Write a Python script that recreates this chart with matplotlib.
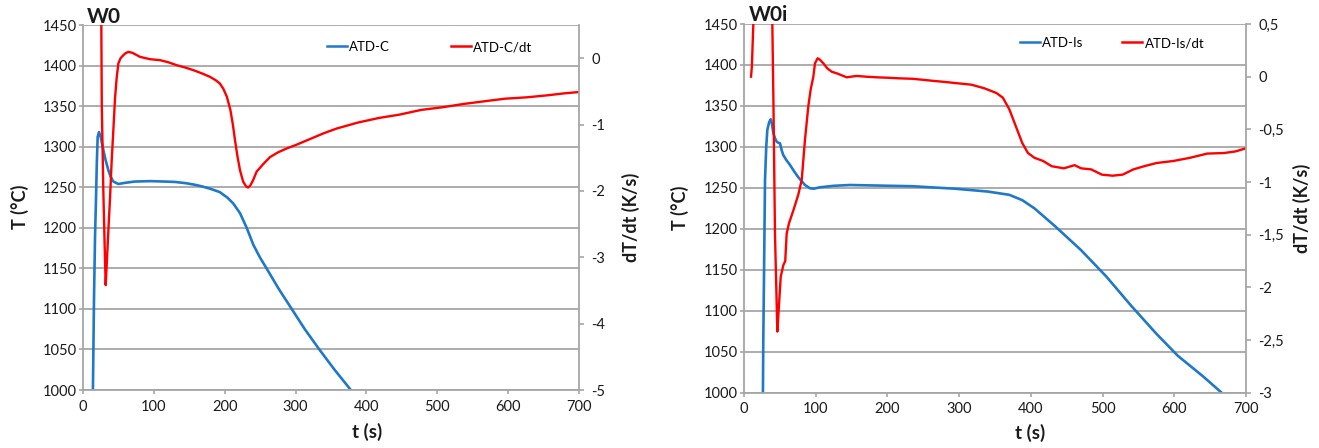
import matplotlib
matplotlib.use("Agg")
import matplotlib.pyplot as plt
from matplotlib.ticker import FuncFormatter, MultipleLocator
from matplotlib.lines import Line2D

plt.rcParams['font.family'] = ['Lato', 'DejaVu Sans']

# --- W0: ATD-C cooling curve and its derivative ---
t_c = [14, 15.5, 17, 18.3, 19.5, 20.7, 22.6, 25, 28.7, 32, 35.8, 39, 42.8, 49.9, 60, 73, 95,
       115, 130, 145, 158, 168, 180, 193, 204, 212, 221.6, 231, 240.4, 250, 259, 276, 294.5,
       313, 333.5, 355, 378]
T_c = [1000, 1111, 1190, 1234, 1280, 1312, 1318, 1312, 1296, 1283, 1271, 1263, 1257, 1254,
       1255.5, 1257, 1257.5, 1257, 1256.5, 1255, 1253, 1251, 1248, 1244, 1237, 1230, 1218,
       1200, 1179, 1163, 1150, 1125, 1100, 1075, 1050, 1025, 1000]

t_cd = [22, 25.8, 26.5, 28.7, 30.5, 32, 34, 36, 38, 40.5, 43, 45.2, 47.5, 49.9, 53, 56.9, 60,
        64, 70, 80.4, 94.6, 108.7, 120, 132, 144, 155.7, 168, 179, 187, 193, 198, 203, 208,
        211.5, 214.5, 218, 221.6, 226, 230, 233, 236, 240, 245, 254, 264, 275, 287.5, 300,
        320, 340, 358, 388, 418, 447, 477, 507, 537, 566, 596, 626, 655, 679, 700]
dT_cd = [3.0, 0.6, -0.7, -2.0, -2.8, -3.42, -3.0, -2.55, -2.14, -1.54, -1.05, -0.6, -0.3,
         -0.08, 0.0, 0.045, 0.075, 0.095, 0.08, 0.02, -0.015, -0.03, -0.06, -0.105, -0.14,
         -0.18, -0.23, -0.28, -0.33, -0.38, -0.46, -0.58, -0.78, -1.0, -1.235, -1.48, -1.69,
         -1.86, -1.93, -1.95, -1.92, -1.84, -1.71, -1.6, -1.49, -1.42, -1.36, -1.31, -1.22,
         -1.13, -1.06, -0.97, -0.9, -0.85, -0.78, -0.74, -0.69, -0.65, -0.61, -0.59, -0.56,
         -0.53, -0.51]

# --- W0i: ATD-Is cooling curve and its derivative ---
t_i = [26.4, 26.9, 28.1, 29.3, 31, 32.5, 35, 37.2, 39, 41, 43.5, 45.6, 48, 50.2, 52.5, 54.8,
       59, 64.1, 70, 75.7, 85, 92, 97, 106, 125, 147.8, 176, 235, 294, 340, 370, 388, 405,
       434, 470, 505, 540, 575, 605, 640, 666]
T_i = [1000, 1064, 1160, 1259.6, 1300, 1320.6, 1330, 1333.7, 1328, 1316.6, 1310, 1306.4,
       1305, 1304.4, 1296, 1290, 1284, 1278, 1270, 1263, 1253.5, 1249.5, 1249, 1250.7,
       1252.5, 1253.5, 1253, 1252, 1249, 1245.5, 1241.5, 1235, 1225, 1203, 1174, 1142, 1106,
       1072, 1045, 1020, 1000]

t_id = [9.8, 11, 13, 16, 36, 39.5, 41, 43.2, 46.5, 48.5, 51.2, 54.8, 57.5, 59.5, 62.8, 68.8,
        75.7, 80.5, 85, 89.7, 93, 96.7, 99, 102.7, 106, 110.6, 116, 122.3, 130, 143.2, 157,
        170, 185, 200, 217, 235, 250, 264, 280, 294, 317, 335, 352, 361, 370, 379, 388, 396,
        405, 417, 429, 446, 461, 470, 484, 499, 514, 528, 543, 558, 575, 599, 622, 646, 669,
        685, 700]
dT_id = [0.0, 0.1, 0.5, 3.0, 3.0, 0.5, -0.22, -1.49, -2.42, -2.2, -1.90, -1.79, -1.75,
         -1.49, -1.39, -1.27, -1.12, -0.98, -0.60, -0.28, -0.12, 0.0, 0.127, 0.175, 0.16,
         0.127, 0.08, 0.047, 0.03, -0.006, 0.007, 0.0, -0.006, -0.01, -0.016, -0.02, -0.03,
         -0.04, -0.05, -0.06, -0.076, -0.11, -0.155, -0.2, -0.31, -0.47, -0.63, -0.725, -0.77,
         -0.8, -0.85, -0.87, -0.84, -0.87, -0.88, -0.93, -0.94, -0.93, -0.88, -0.85, -0.82,
         -0.8, -0.77, -0.73, -0.725, -0.71, -0.68]

BLUE = '#1f78c8'
RED = '#ff0000'
GRID = '#a6a6a6'
TXT = '#1a1a1a'

W, H = 1319, 448
fig = plt.figure(figsize=(W / 100, H / 100), dpi=100)


def px_axes(x0, y0, x1, y1):
    return fig.add_axes([x0 / W, 1 - y1 / H, (x1 - x0) / W, (y1 - y0) / H])


def style_axes(ax, ax2, dlim, dstep, dfmt):
    ax.set_xlim(0, 700)
    ax.set_ylim(1000, 1450)
    ax.xaxis.set_major_locator(MultipleLocator(100))
    ax.yaxis.set_major_locator(MultipleLocator(50))
    ax.grid(axis='y', color=GRID, linewidth=1.3)
    ax.set_axisbelow(True)
    for a in (ax, ax2):
        for s in a.spines.values():
            s.set_color(GRID)
            s.set_linewidth(1.3)
        a.spines['top'].set_visible(False)
        a.tick_params(colors=GRID, labelcolor=TXT, labelsize=10.5, length=3, width=1.2)
    ax.spines['right'].set_visible(False)
    ax2.spines['left'].set_visible(False)
    ax2.spines['bottom'].set_visible(False)
    ax2.set_ylim(*dlim)
    ax2.yaxis.set_major_locator(MultipleLocator(dstep))
    ax2.yaxis.set_major_formatter(FuncFormatter(dfmt))
    ax.tick_params(axis='y', pad=1.5)
    ax2.tick_params(axis='y', length=3.8, pad=5)
    ax.tick_params(axis='x', pad=4)


def fmt_int(v, pos):
    return f"{v:g}"


def fmt_comma(v, pos):
    return f"{v:g}".replace('.', ',')


panels = [
    dict(box=(83, 25, 579, 390), t=t_c, T=T_c, td=t_cd, d=dT_cd, dlim=(-5, 0.5), dstep=1,
         fmt=fmt_int, names=('ATD-C', 'ATD-C/dt'), title='W0', title_xy=(104, 17),
         leg_xy=(327, 47), colsp=4.6, ylab_xy=(20, 207), dlab_xy=(631, 217),
         tlab_xy=(367, 432)),
    dict(box=(744, 24, 1246, 392.7), t=t_i, T=T_i, td=t_id, d=dT_id, dlim=(-3, 0.5),
         dstep=0.5, fmt=fmt_comma, names=('ATD-Is', 'ATD-Is/dt'), title='W0i',
         title_xy=(768, 15), leg_xy=(1020, 43), colsp=2.9, ylab_xy=(680, 208),
         dlab_xy=(1302, 208), tlab_xy=(1030, 433)),
]

for p in panels:
    ax = px_axes(*p['box'])
    ax2 = ax.twinx()
    style_axes(ax, ax2, p['dlim'], p['dstep'], p['fmt'])
    ax.plot(p['t'], p['T'], color=BLUE, linewidth=1.9, solid_joinstyle='round')
    ax2.plot(p['td'], p['d'], color=RED, linewidth=1.7, solid_joinstyle='round')

    handles = [Line2D([], [], color=BLUE, linewidth=1.8),
               Line2D([], [], color=RED, linewidth=1.8)]
    lx, ly = p['leg_xy']
    fig.legend(handles, p['names'], loc='center left', bbox_to_anchor=(lx / W, 1 - ly / H),
               ncol=2, frameon=False, fontsize=9.5, handlelength=1.5, handletextpad=0.2,
               columnspacing=p['colsp'], borderpad=0, borderaxespad=0)

    fig.text(p['title_xy'][0] / W, 1 - p['title_xy'][1] / H, p['title'], ha='center',
             va='center', fontsize=15, fontweight='bold', color=TXT)
    fig.text(p['ylab_xy'][0] / W, 1 - p['ylab_xy'][1] / H, 'T (°C)', rotation=90,
             ha='center', va='center', fontsize=13, fontweight='bold', color=TXT)
    fig.text(p['dlab_xy'][0] / W, 1 - p['dlab_xy'][1] / H, 'dT/dt (K/s)', rotation=90,
             ha='center', va='center', fontsize=13, fontweight='bold', color=TXT)
    fig.text(p['tlab_xy'][0] / W, 1 - p['tlab_xy'][1] / H, 't (s)', ha='center',
             va='center', fontsize=13.5, fontweight='bold', color=TXT)

fig.savefig('out.png', dpi=100)
